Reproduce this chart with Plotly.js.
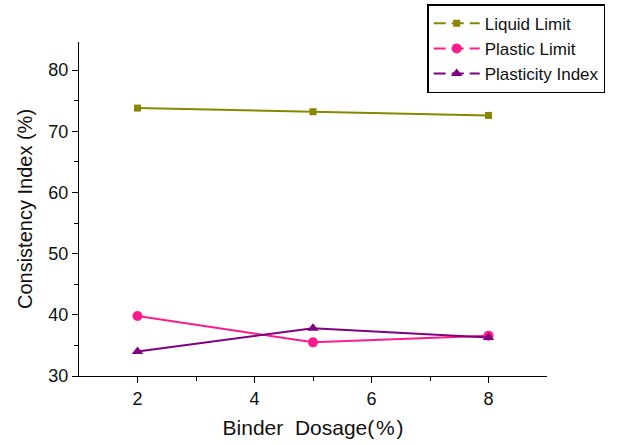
<!DOCTYPE html>
<html><head><meta charset="utf-8">
<script src="https://cdn.plot.ly/plotly-3.0.1.min.js"></script>
<style>body{margin:0;padding:0;background:#fff}#chart{width:623px;height:445px}</style>
</head><body><div id="chart"></div>
<script>
const dosage = [2, 5, 8];
const liquidLimit = [73.8, 73.2, 72.6];
const plasticLimit = [39.8, 35.5, 36.6];
const plasticityIndex = [34.0, 37.8, 36.3];
const seriesNames = ['Liquid Limit', 'Plastic Limit', 'Plasticity Index'];
const colors = ['#878700', '#ff1a8c', '#800080'];
const symbols = ['square', 'circle', 'triangle-up'];
const values = [liquidLimit, plasticLimit, plasticityIndex];

const traces = [];
values.forEach((v, i) => {
  traces.push({x: dosage, y: v, type: 'scatter', mode: 'lines+markers', showlegend: false,
    line: {color: colors[i], width: 2}, marker: {color: colors[i], symbol: symbols[i], size: i === 0 ? 7 : 10}, cliponaxis: false});
});
values.forEach((v, i) => {
  traces.push({x: [null], y: [null], type: 'scatter', mode: 'lines+markers', name: seriesNames[i],
    line: {color: colors[i], width: 2, dash: '12px,6px'}, marker: {color: colors[i], symbol: symbols[i], size: i === 0 ? 7 : 10}});
});

const layout = {
  width: 623, height: 445,
  margin: {l: 79, r: 76, t: 42, b: 69, autoexpand: false},
  paper_bgcolor: '#fff', plot_bgcolor: '#fff',
  font: {family: 'Liberation Sans, Arial, sans-serif', color: '#111', size: 18},
  showlegend: true,
  legend: {x: 0.744, y: 1.113, xanchor: 'left', yanchor: 'top', bordercolor: '#000', borderwidth: 1.5,
    bgcolor: '#fff', font: {size: 17}, tracegroupgap: 0, itemwidth: 46},
  xaxis: {range: [1, 9], showgrid: false, zeroline: false, showline: true, linecolor: '#000', linewidth: 1,
    ticks: 'outside', ticklen: 6, tickcolor: '#000', tickvals: [2, 4, 6, 8],
    minor: {tickvals: [3, 5, 7], ticks: 'outside', ticklen: 4, tickcolor: '#000'},
    title: {text: 'Binder\u00a0\u00a0Dosage(\u200a%\u200a)', font: {size: 21}, standoff: 12}},
  yaxis: {range: [30, 84.6], showgrid: false, zeroline: false, showline: true, linecolor: '#000', linewidth: 1,
    ticks: 'outside', ticklen: 6, tickcolor: '#000', tickvals: [30, 40, 50, 60, 70, 80],
    minor: {tickvals: [35, 45, 55, 65, 75], ticks: 'outside', ticklen: 4, tickcolor: '#000'},
    title: {text: 'Consistency Index (%)', font: {size: 20}, standoff: 10}}
};
Plotly.newPlot('chart', traces, layout, {displayModeBar: false});
</script></body></html>
